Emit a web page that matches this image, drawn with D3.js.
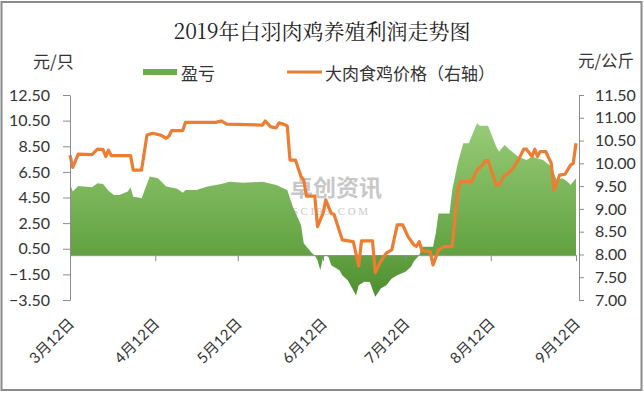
<!DOCTYPE html>
<html><head><meta charset="utf-8">
<script src="https://cdn.jsdelivr.net/npm/d3@7"></script>
<style>
html,body{margin:0;padding:0;background:#fff;}
svg{display:block;}
</style></head>
<body>
<script>
// ---- data ----
const titleText = "2019年白羽肉鸡养殖利润走势图";
const leftUnit = "元/只";
const rightUnit = "元/公斤";
const seriesNames = ["盈亏", "大肉食鸡价格（右轴）"];

const profitDates = ["03-12","03-13","03-15","03-20","03-22","03-24","03-26","03-28","03-30","04-02","04-03","04-04","04-06","04-07","04-10","04-13","04-16","04-20","04-22","04-23","04-27","05-01","05-06","05-09","05-14","05-21","05-26","05-30","06-01","06-04","06-05","06-08","06-09","06-10","06-11","06-12","06-13","06-14","06-15","06-18","06-19","06-21","06-22","06-24","06-25","06-27","06-29","07-01","07-03","07-05","07-07","07-09","07-12","07-14","07-15","07-17","07-18","07-22","07-23","07-24","07-28","07-29","07-31","08-02","08-04","08-07","08-08","08-11","08-14","08-15","08-17","08-19","08-22","08-25","08-27","08-31","09-03","09-05","09-07","09-09","09-10","09-12"];
const profitValues = [5.61,4.96,5.40,5.30,5.61,5.55,5.03,4.70,4.70,4.96,5.30,4.56,4.50,4.43,6.13,6.00,5.35,5.19,4.88,5.09,5.09,5.35,5.55,5.73,5.65,5.73,5.47,5.09,3.79,2.35,0.92,0.15,0.00,-0.39,-1.17,-0.20,0.00,-0.15,-0.78,-1.17,-1.56,-1.95,-2.34,-3.12,-2.34,-2.08,-2.10,-3.25,-2.60,-2.34,-1.82,-1.56,-1.30,-0.90,-0.50,0.00,0.66,0.66,1.70,3.26,3.26,5.09,7.17,8.73,8.73,10.29,10.10,10.10,8.47,8.08,8.60,8.20,7.69,7.43,7.69,7.43,6.91,5.87,6.00,5.73,5.47,6.00];

const priceDates = ["03-12","03-13","03-15","03-20","03-22","03-24","03-25","03-26","03-27","04-03","04-04","04-07","04-09","04-11","04-14","04-16","04-17","04-18","04-22","04-23","05-04","05-06","05-08","05-21","05-22","05-24","05-26","05-27","05-29","05-30","05-31","06-02","06-04","06-05","06-06","06-09","06-10","06-12","06-13","06-15","06-16","06-19","06-23","06-25","06-26","06-30","07-01","07-03","07-05","07-07","07-09","07-11","07-13","07-14","07-15","07-16","07-17","07-18","07-21","07-22","07-24","07-26","07-29","07-31","08-01","08-05","08-07","08-09","08-10","08-11","08-14","08-15","08-17","08-18","08-20","08-22","08-24","08-25","08-27","08-28","08-29","08-30","09-01","09-03","09-04","09-06","09-08","09-10","09-11","09-12"];
const priceValues = [10.18,9.91,10.20,10.19,10.31,10.30,10.15,10.29,10.17,10.17,9.85,9.85,10.62,10.66,10.62,10.55,10.60,10.72,10.72,10.90,10.90,10.93,10.86,10.84,10.93,10.80,10.78,10.89,10.85,10.82,10.07,10.07,9.71,9.63,9.28,9.28,8.61,8.90,9.20,8.90,8.88,8.32,8.28,7.75,8.30,8.30,7.60,7.85,8.03,8.10,8.65,8.65,8.38,8.30,8.21,8.18,8.28,8.08,8.06,7.77,8.10,8.17,8.17,9.41,9.60,9.60,9.85,9.96,10.06,10.06,9.52,9.52,9.74,9.76,9.89,10.07,10.31,10.31,10.15,10.31,10.15,10.26,10.26,10.00,9.41,9.74,9.76,9.96,10.00,10.44];

const leftTicks = [-3.5,-1.5,0.5,2.5,4.5,6.5,8.5,10.5,12.5];
const rightTicks = [7,7.5,8,8.5,9,9.5,10,10.5,11,11.5];
const xTickDates = ["03-12","04-12","05-12","06-12","07-12","08-12","09-12"];
const xTickLabels = ["3月12日","4月12日","5月12日","6月12日","7月12日","8月12日","9月12日"];

// ---- helpers ----
const parse = s => { const [m,d] = s.split("-").map(Number); return new Date(2019, m-1, d); };
const profit = profitDates.map((d,i)=>({date:parse(d), v:profitValues[i]}));
const price = priceDates.map((d,i)=>({date:parse(d), v:priceValues[i]}));
const fmt = d3.format(".2f");
const numFont = "Lato, 'Open Sans', 'Noto Sans CJK SC', sans-serif";
const cjkFont = "'Noto Sans CJK SC', sans-serif";

const W = 644, H = 394;
const svg = d3.select("body").append("svg").attr("width", W).attr("height", H);
svg.append("rect").attr("width", W).attr("height", H).attr("fill", "#fff");
svg.append("rect").attr("x",1.5).attr("y",2).attr("width",640).attr("height",388)
  .attr("fill","none").attr("stroke","#8a8a8a").attr("stroke-width",2);

const x = d3.scaleTime().domain([parse("03-12"), parse("09-12")]).range([70, 576]);
const yL = d3.scaleLinear().domain([-3.5, 12.5]).range([300, 95]);
const yR = d3.scaleLinear().domain([7, 11.5]).range([300, 95]);

// gradient
const defs = svg.append("defs");
const grad = defs.append("linearGradient").attr("id","g").attr("x1",0).attr("y1",0).attr("x2",0).attr("y2",1);
grad.append("stop").attr("offset","0%").attr("stop-color","#98cb77");
grad.append("stop").attr("offset","72%").attr("stop-color","#64a444");
grad.append("stop").attr("offset","100%").attr("stop-color","#4f8e30");

// title
svg.append("text").attr("x", 322).attr("y", 30).attr("text-anchor","middle")
  .attr("dominant-baseline","central")
  .style("font-family","'Noto Serif CJK SC','Liberation Serif','Noto Sans CJK SC',serif")
  .style("font-size","21px").attr("fill","#222").text(titleText);

// units
svg.append("text").attr("x", 33).attr("y", 60).attr("dominant-baseline","central")
  .style("font-family", cjkFont).style("font-size","17px").attr("fill","#333").text(leftUnit);
svg.append("text").attr("x", 578).attr("y", 60).attr("dominant-baseline","central")
  .style("font-family", cjkFont).style("font-size","16.5px").attr("fill","#333").text(rightUnit);

// legend
const lg = svg.append("g");
lg.append("rect").attr("x",143).attr("y",69).attr("width",34).attr("height",6).attr("fill","#6aaa48");
lg.append("text").attr("x",181).attr("y",72).attr("dominant-baseline","central")
  .style("font-family",cjkFont).style("font-size","17px").attr("fill","#333").text(seriesNames[0]);
lg.append("line").attr("x1",287).attr("x2",322).attr("y1",72).attr("y2",72)
  .attr("stroke","#ed7d31").attr("stroke-width",3);
lg.append("text").attr("x",325).attr("y",72).attr("dominant-baseline","central")
  .style("font-family",cjkFont).style("font-size","17px").attr("fill","#333").text(seriesNames[1]);

// area
const area = d3.area().x(d=>x(d.date)).y0(yL(0)).y1(d=>yL(d.v));
svg.append("path").datum(profit).attr("d", area).attr("fill","url(#g)");

// watermark
const wm = svg.append("g").attr("opacity",0.55);
wm.append("text").attr("x",290).attr("y",196).style("font-family",cjkFont).style("font-weight","bold")
  .style("font-size","23px").attr("fill","#9c9c9c").text("卓创资讯");
wm.append("text").attr("x",292).attr("y",215).style("font-family","'Liberation Serif',serif")
  .style("font-size","11px").style("letter-spacing","2.5px").attr("fill","#9c9c9c").text("SCI99.COM");

// x axis
const xAxis = svg.append("g").attr("transform",`translate(0,${yL(0)})`)
  .call(d3.axisBottom(x).tickValues(xTickDates.map(parse)).tickSize(6).tickSizeOuter(0).tickFormat(""));
xAxis.select(".domain").attr("stroke","#8c8c8c");
xAxis.selectAll(".tick line").attr("stroke","#8c8c8c");

// x labels via second axis
const xLab = svg.append("g").attr("transform","translate(0,321)")
  .call(d3.axisBottom(x).tickValues(xTickDates.map(parse)).tickSize(0)
    .tickFormat((d,i)=>xTickLabels[i]));
xLab.select(".domain").remove();
xLab.selectAll("text").attr("y",0).attr("dy","0.35em").attr("x",0)
  .attr("text-anchor","end").attr("transform","translate(1,0) rotate(-45)")
  .style("font-family",numFont).style("font-size","15px").attr("fill","#333");

// price line
const line = d3.line().x(d=>x(d.date)).y(d=>yR(d.v));
svg.append("path").datum(price).attr("d", line).attr("fill","none")
  .attr("stroke","#ed7d31").attr("stroke-width",3.2).attr("stroke-linejoin","round");

// left axis
const la = svg.append("g").attr("transform","translate(70,0)")
  .call(d3.axisLeft(yL).tickValues(leftTicks).tickFormat(fmt).tickSize(7).tickSizeOuter(0).tickPadding(13));
la.select(".domain").attr("stroke","#8c8c8c");
la.selectAll(".tick line").attr("stroke","#8c8c8c");
la.selectAll("text").style("font-family",numFont).style("font-size","16px").attr("fill","#333");

// right axis
const ra = svg.append("g").attr("transform","translate(579,0)")
  .call(d3.axisRight(yR).tickValues(rightTicks).tickFormat(fmt).tickSize(5).tickSizeOuter(0).tickPadding(11));
ra.select(".domain").attr("stroke","#8c8c8c");
ra.selectAll(".tick line").attr("stroke","#8c8c8c");
ra.selectAll("text").style("font-family",numFont).style("font-size","16px").attr("fill","#333");
</script>
</body></html>
